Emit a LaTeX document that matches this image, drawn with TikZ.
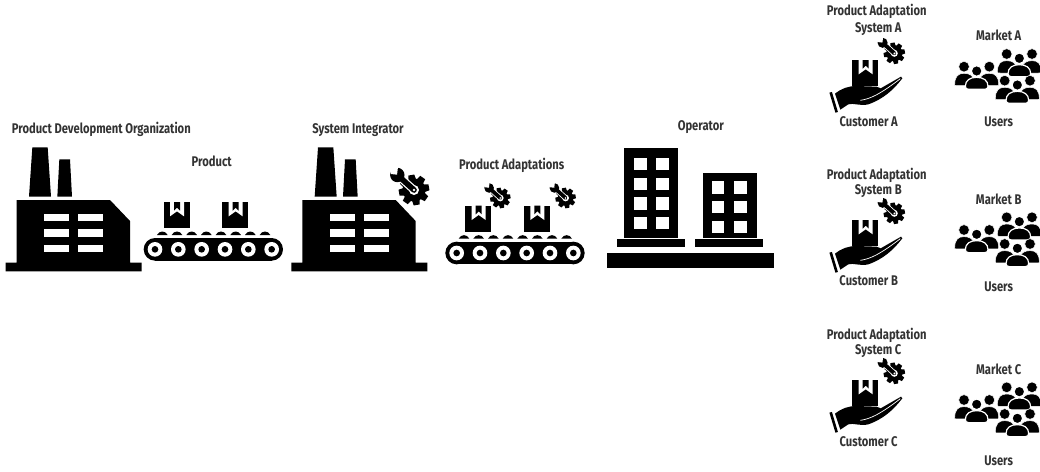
\documentclass[tikz,border=0pt]{standalone}
\usepackage{fontspec}
\setmainfont[FakeStretch=0.80]{Fira Sans Bold}
\newcommand{\Factory}[2]{\begin{scope}[shift={(#1,#2)},scale=1/3]
 \fill[ink] (97,112)--(143,112)--(153,260)--(87,260)--cycle;
 \fill[ink] (178,148)--(210,148)--(216,260)--(172,260)--cycle;
 \fill[ink] (50,270)--(330,270)--(390,333)--(390,458)--(425,458)--(425,484)--(17,484)--(17,458)--(50,458)--cycle;
 \foreach \yy in {312,358,405}{\fill[white] (133,\yy) rectangle (208,\yy+22); \fill[white] (234,\yy) rectangle (309,\yy+22);}
\end{scope}}
\newcommand{\Parcel}[3]{\begin{scope}[shift={(#1,#2)},scale=#3]
 \fill[ink] (0,0) rectangle (78,78);
 \fill[white] (19,0)--(61,0)--(61,43)--(40,28)--(19,43)--cycle;
 \fill[ink] (31,0)--(49,0)--(49,26)--(40,17)--(31,26)--cycle;
\end{scope}}
\newcommand{\Conveyor}[2]{\begin{scope}[shift={(#1,#2)},scale=1/3]
 \Parcel{491}{276}{1}\Parcel{667}{276}{1}
 \foreach \xx in {487,531,575,619,663,707,751,795}{\fill[ink] ({\xx-16},375) .. controls ({\xx-9},361) and ({\xx+9},361) .. ({\xx+16},375) -- cycle;}
 \fill[ink] (465,384) rectangle (815,452);
 \fill[ink] (465,418) circle[radius=34]; \fill[ink] (815,418) circle[radius=34];
 \foreach \xx in {465,535,605,675,745,815}{\fill[white] (\xx,418) circle[radius=22]; \fill[ink] (\xx,418) circle[radius=10];}
\end{scope}}
\newcommand{\GearWrench}[3]{\begin{scope}[shift={(#1,#2)},scale=#3]
 \fill[ink] (0,0) circle[radius=11.6];
 \foreach \a in {0,45,...,315}{\fill[ink,rotate=\a+10] (-3.8,-10)--(-3,-15.2)--(3,-15.2)--(3.8,-10)--cycle;}
 \fill[white] (0,0) circle[radius=5];
 \draw[white,line width=#3*8pt] (-16.7,-15)--(0,0);
 \draw[ink,line width=#3*5.6pt,line cap=round] (-14,-12.6)--(0,0);
 \fill[ink] (-16.7,-15) circle[radius=7.2];
 \fill[white] (-17,-15.3)--(-23,-16)--(-25,-25)--(-16,-23)--cycle;
 \fill[white] (0,0) circle[radius=1.3];
\end{scope}}
\newcommand{\Hand}[2]{\begin{scope}[shift={(#1,#2)},scale=1/3]
 \Parcel{82}{75}{1.0}
 \draw[ink,line width=2.6pt] (17,172)--(35,232);
 \fill[ink] (30,176) .. controls (50,160) and (70,153) .. (95,153) -- (155,155) -- (167,160) -- (228,125) -- (232,130) .. controls (205,165) and (175,192) .. (130,208) .. controls (105,214) and (85,203) .. (70,208) -- (46,224) -- cycle;
 \draw[white,line width=.7pt] (106,196) .. controls (135,192) and (165,178) .. (226,131);
\end{scope}}
\newcommand{\Trio}[2]{\begin{scope}[shift={(#1,#2)}]
 \fill[white] (0,0) circle[radius=25];
 \filldraw[ink,draw=white,line width=.5pt] (-38,-13) circle[radius=16];
 \filldraw[ink,draw=white,line width=.5pt] (38,-13) circle[radius=16];
 \filldraw[ink,draw=white,line width=.5pt] (-66,42) .. controls (-66,15) and (-55,7) .. (-38,7) .. controls (-20,7) and (-12,15) .. (-8,25) -- (-8,44) -- (-58,44) .. controls (-63,44) and (-66,44) .. (-66,42) -- cycle;
 \filldraw[ink,draw=white,line width=.5pt] (66,42) .. controls (66,15) and (55,7) .. (38,7) .. controls (20,7) and (12,15) .. (8,25) -- (8,44) -- (58,44) .. controls (63,44) and (66,44) .. (66,42) -- cycle;
 \filldraw[ink,draw=white,line width=1.2pt] (0,0) circle[radius=16];
 \filldraw[ink,draw=white,line width=1.2pt] (-34,46) .. controls (-34,28) and (-20,19) .. (0,19) .. controls (20,19) and (34,28) .. (34,46) .. controls (34,52) and (30,55) .. (24,55) -- (-24,55) .. controls (-30,55) and (-34,52) .. (-34,46) -- cycle;
\end{scope}}
\newcommand{\People}[2]{\begin{scope}[shift={(#1,#2)},scale=1/3]
 \Trio{208}{40}\Trio{80}{78}\Trio{202}{120}
\end{scope}}
\tikzset{ink/.style={black}, lbl/.style={anchor=base,inner sep=0pt,text=black!80,font=\fontsize{14}{15}\selectfont,yshift=-5pt}}
\begin{document}
\begin{tikzpicture}[x=1pt,y=-1pt]
\useasboundingbox (0,0) rectangle (1040,471);
\Factory{0}{110}
\Factory{285.67}{110}
\Conveyor{0}{110}
\Conveyor{301.67}{113.67}
\GearWrench{414}{190}{1}
\GearWrench{500.3}{198}{0.67}
\GearWrench{565.6}{198}{0.67}
\begin{scope}[shift={(590,110)},scale=1/3]
 \fill[ink] (101,115) rectangle (265,385);
 \fill[ink] (338,188) rectangle (500,385);
 \fill[ink] (81,387) rectangle (285,411);
 \fill[ink] (315,387) rectangle (519,411);
 \fill[ink] (51,429) rectangle (552,473);
 \foreach \yy in {144,203,262,321}{\fill[white] (133,\yy) rectangle (170,\yy+37); \fill[white] (199,\yy) rectangle (236,\yy+37);}
 \foreach \yy in {214,273,332}{\fill[white] (366,\yy) rectangle (403,\yy+37); \fill[white] (433,\yy) rectangle (470,\yy+37);}
\end{scope}
\foreach \dy in {0,160,320}{
 \Hand{825}{35+\dy}
 \GearWrench{894.3}{53.3+\dy}{0.7}
}
\People{950}{45}
\People{950}{208.3}
\People{950}{378.3}
\node[lbl] (pdo) at (101.3,128.3) {Product Development Organization};
\node[lbl] (prod) at (211.7,161.7) {Product};
\node[lbl] (si) at (358,128.3) {System Integrator};
\node[lbl] (pa) at (511.7,164.3) {Product Adaptations};
\node[lbl] (op) at (700.8,125) {Operator};
\node[lbl] (pasa) at (876.7,10.7) {Product Adaptation};
\node[lbl] (sa) at (878.3,27.3) {System A};
\node[lbl] (ca) at (868.7,121) {Customer A};
\node[lbl] (ma) at (998.7,35) {Market A};
\node[lbl] (ua) at (998.7,121.3) {Users};
\node[lbl] (pasb) at (876.7,174) {Product Adaptation};
\node[lbl] (sb) at (878.3,189.3) {System B};
\node[lbl] (cb) at (868.7,280) {Customer B};
\node[lbl] (mb) at (998.7,199.3) {Market B};
\node[lbl] (ub) at (998.7,286) {Users};
\node[lbl] (pasc) at (876.7,334) {Product Adaptation};
\node[lbl] (sc) at (878.3,349.3) {System C};
\node[lbl] (cc) at (868.7,441) {Customer C};
\node[lbl] (mc) at (998.7,369.3) {Market C};
\node[lbl] (uc) at (998.7,460) {Users};
\end{tikzpicture}
\end{document}
